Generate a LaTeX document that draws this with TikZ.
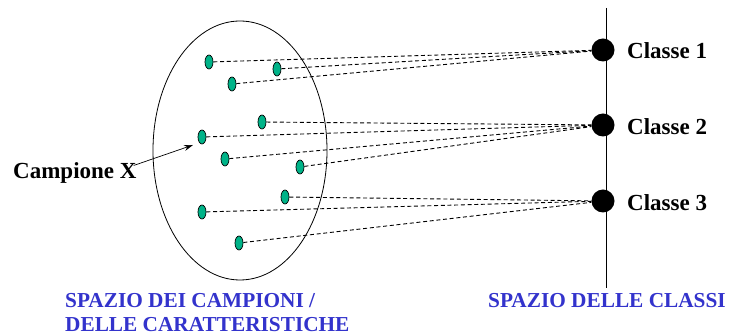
\documentclass[tikz,border=0pt]{standalone}
\usepackage{fontspec}
\setmainfont{Liberation Serif}
\usetikzlibrary{shapes.geometric,arrows.meta}
\definecolor{dotgreen}{RGB}{0,179,136}
\definecolor{labblue}{RGB}{51,51,204}
\begin{document}
\begin{tikzpicture}[x=1pt,y=-1pt,
  sample/.style={ellipse,draw=black,line width=0.7pt,fill=dotgreen,minimum width=8pt,minimum height=14pt,inner sep=0pt},
  classdot/.style={circle,fill=black,minimum size=23pt,inner sep=0pt},
  link/.style={dash pattern=on 4pt off 2.7pt,line width=0.9pt},
  lab/.style={font=\fontsize{23}{26}\selectfont\bfseries,inner sep=0pt,anchor=base west},
  bluelab/.style={font=\fontsize{21.3}{24}\selectfont\bfseries,text=labblue,inner sep=0pt,anchor=base west,align=left}]
\useasboundingbox (0,0) rectangle (729,336);
% feature space
\node[ellipse,draw,line width=0.8pt,minimum width=174pt,minimum height=259pt,inner sep=0pt] (space) at (240,150.5) {};
% class axis
\coordinate (axtop) at (606,8);
\coordinate (axbot) at (606,288);
\draw[line width=0.8pt] (axtop) -- (axbot);
\node[classdot] (c1) at (603,50) {};
\node[classdot] (c2) at (603,125) {};
\node[classdot] (c3) at (603,201) {};
\node[lab] (l1) at (627,59) {Classe 1};
\node[lab] (l2) at (627,135) {Classe 2};
\node[lab] (l3) at (627,211) {Classe 3};
% samples
\node[sample] (d1) at (209,62) {};
\node[sample] (d2) at (277,69) {};
\node[sample] (d3) at (232,84) {};
\node[sample] (d4) at (262,122) {};
\node[sample] (d5) at (202,137) {};
\node[sample] (d6) at (225,159) {};
\node[sample] (d7) at (300,167) {};
\node[sample] (d8) at (285,197) {};
\node[sample] (d9) at (202,212) {};
\node[sample] (d10) at (239,243) {};
% links
\foreach \d in {d1,d2,d3} \draw[link] (\d) -- (c1);
\foreach \d in {d4,d5,d6,d7} \draw[link] (\d) -- (c2);
\foreach \d in {d8,d9,d10} \draw[link] (\d) -- (c3);
% sample label
\node[lab] (cx) at (13,179) {Campione X};
\draw[line width=0.7pt,-{Stealth[length=9pt,width=6pt]}] (cx.east) ++(-3,-8) coordinate (cxs) -- (193,145);
% bottom labels
\node[bluelab] (sp1) at (65,308) {SPAZIO DEI CAMPIONI /};
\node[bluelab] (sp2) at (65,332) {DELLE CARATTERISTICHE};
\node[bluelab] (sp3) at (488,308) {SPAZIO DELLE CLASSI};
\end{tikzpicture}
\end{document}
